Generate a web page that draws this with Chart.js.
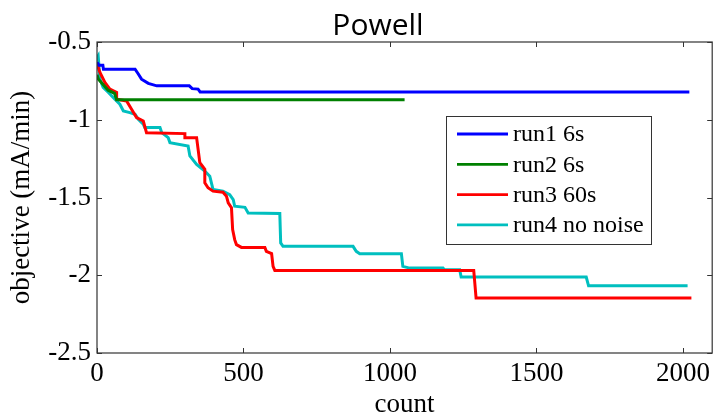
<!DOCTYPE html>
<html>
<head>
<meta charset="utf-8">
<title>Powell</title>
<script src="https://cdn.jsdelivr.net/npm/chart.js@4/dist/chart.umd.min.js"></script>
<style>
  html, body { margin: 0; padding: 0; background: #fff; }
  #chart { display: block; }
</style>
</head>
<body>
<canvas id="chart" width="715" height="418"></canvas>
<script>
// --- data ---
const seriesNames = ['run1 6s', 'run2 6s', 'run3 60s', 'run4 no noise'];
const seriesColors = ['#0000ff', '#008000', '#ff0000', '#00bfbf'];

const run1Counts = [0, 7, 20, 22, 130, 141, 152, 175, 204, 315, 325, 345, 352, 2022];
const run1Values = [-0.63, -0.65, -0.65, -0.675, -0.675, -0.706, -0.739, -0.766, -0.782, -0.782, -0.80, -0.803, -0.821, -0.821];

const run2Counts = [0, 5, 38, 60, 67, 1050];
const run2Values = [-0.71, -0.74, -0.81, -0.83, -0.872, -0.872];

const run3Counts = [0, 10, 27, 44, 67, 67, 101, 118, 135, 158, 169, 300, 300, 340, 351, 368, 368, 379, 396, 430, 442, 448, 459, 463, 470, 476, 493, 573, 578, 596, 601, 607, 1286, 1294, 2029];
const run3Values = [-0.64, -0.696, -0.76, -0.803, -0.825, -0.868, -0.879, -0.932, -0.986, -1.008, -1.083, -1.089, -1.115, -1.115, -1.276, -1.319, -1.405, -1.437, -1.459, -1.466, -1.492, -1.534, -1.566, -1.706, -1.771, -1.803, -1.821, -1.821, -1.846, -1.861, -1.943, -1.969, -1.969, -2.147, -2.147];

const run4Counts = [0, 4, 10, 21, 39, 61, 78, 90, 112, 130, 141, 158, 163, 215, 221, 243, 249, 311, 317, 340, 368, 385, 396, 430, 453, 465, 470, 505, 516, 624, 627, 635, 874, 885, 897, 1039, 1044, 1067, 1181, 1186, 1238, 1243, 1670, 1678, 2016];
const run4Values = [-0.60, -0.588, -0.739, -0.792, -0.825, -0.868, -0.90, -0.943, -0.954, -0.965, -0.997, -1.029, -1.05, -1.05, -1.083, -1.115, -1.147, -1.169, -1.233, -1.287, -1.33, -1.363, -1.448, -1.459, -1.481, -1.513, -1.556, -1.563, -1.599, -1.603, -1.792, -1.814, -1.814, -1.846, -1.861, -1.861, -1.943, -1.954, -1.954, -1.965, -1.965, -2.012, -2.012, -2.068, -2.068];

const xTickValues = [0, 500, 1000, 1500, 2000];
const yTickValues = [-2.5, -2, -1.5, -1, -0.5];
const yTickLabels = ['-2.5', '-2', '-1.5', '-1', '-0.5'];

const allCounts = [run1Counts, run2Counts, run3Counts, run4Counts];
const allValues = [run1Values, run2Values, run3Values, run4Values];

const serif = "'Liberation Serif', 'Times New Roman', serif";

// MATLAB style frame: box all round, ticks pointing inward
const framePlugin = {
    id: 'frame',
    afterDatasetsDraw(chart) {
        const { ctx, chartArea: a, scales } = chart;
        const len = 5;
        ctx.save();
        ctx.strokeStyle = '#333';
        ctx.lineWidth = 1.2;
        ctx.strokeRect(a.left, a.top, a.right - a.left, a.bottom - a.top);
        ctx.beginPath();
        xTickValues.forEach(v => {
            const x = Math.round(scales.x.getPixelForValue(v)) + 0.5;
            ctx.moveTo(x, a.bottom); ctx.lineTo(x, a.bottom - len);
            ctx.moveTo(x, a.top); ctx.lineTo(x, a.top + len);
        });
        yTickValues.forEach(v => {
            const y = Math.round(scales.y.getPixelForValue(v)) + 0.5;
            ctx.moveTo(a.left, y); ctx.lineTo(a.left + len, y);
            ctx.moveTo(a.right, y); ctx.lineTo(a.right - len, y);
        });
        ctx.lineWidth = 1;
        ctx.stroke();
        ctx.restore();
    }
};

// legend box inside the plot, top right
const boxLegendPlugin = {
    id: 'boxLegend',
    afterDraw(chart) {
        const { ctx } = chart;
        const left = 446.5, top = 116.5, w = 205, h = 128;
        ctx.save();
        ctx.fillStyle = '#fff';
        ctx.fillRect(left, top, w, h);
        ctx.strokeStyle = '#333';
        ctx.lineWidth = 1;
        ctx.strokeRect(left, top, w, h);
        ctx.font = '24px ' + serif;
        ctx.textBaseline = 'middle';
        ctx.textAlign = 'left';
        chart.data.datasets.forEach((ds, i) => {
            const y = 134 + i * 30.3;
            ctx.strokeStyle = ds.borderColor;
            ctx.lineWidth = 2.8;
            ctx.beginPath();
            ctx.moveTo(457, y);
            ctx.lineTo(508, y);
            ctx.stroke();
            ctx.fillStyle = '#000';
            ctx.fillText(ds.label, 513, y + 1);
        });
        ctx.restore();
    }
};

// title sits a bit left of the plot centre in the reference
const titlePlugin = {
    id: 'plotTitle',
    afterDraw(chart) {
        const { ctx } = chart;
        ctx.save();
        ctx.font = "30px 'Open Sans', 'Noto Sans', sans-serif";
        ctx.fillStyle = '#000';
        ctx.textAlign = 'center';
        ctx.textBaseline = 'alphabetic';
        ctx.fillText('Powell', 378, 35);
        ctx.restore();
    }
};

const datasets = seriesNames.map((name, i) => ({
    label: name,
    data: allCounts[i].map((c, j) => ({ x: c, y: allValues[i][j] })),
    borderColor: seriesColors[i],
    backgroundColor: seriesColors[i],
    borderWidth: 3,
    pointRadius: 0,
    tension: 0,
    fill: false
}));

new Chart(document.getElementById('chart'), {
    type: 'line',
    data: { datasets },
    options: {
        responsive: false,
        animation: false,
        layout: { padding: { top: 42, right: 2, left: 0, bottom: 0 } },
        plugins: {
            legend: { display: false },
            title: { display: false },
            tooltip: { enabled: false }
        },
        scales: {
            x: {
                type: 'linear',
                min: 0,
                max: 2100,
                afterFit: scale => { scale.height = 65; },
                afterBuildTicks: scale => { scale.ticks = xTickValues.map(v => ({ value: v })); },
                grid: { display: false, drawTicks: false },
                border: { display: false },
                ticks: {
                    padding: 5,
                    color: '#000',
                    font: { family: serif, size: 27 },
                    maxRotation: 0,
                    callback: v => String(v)
                },
                title: {
                    display: true,
                    text: 'count',
                    color: '#000',
                    font: { family: serif, size: 27, lineHeight: 1 },
                    padding: { top: 0, bottom: 0 }
                }
            },
            y: {
                type: 'linear',
                min: -2.5,
                max: -0.5,
                afterFit: scale => { scale.width = 97; },
                afterBuildTicks: scale => { scale.ticks = yTickValues.map(v => ({ value: v })); },
                grid: { display: false, drawTicks: false },
                border: { display: false },
                ticks: {
                    padding: 6,
                    color: '#000',
                    font: { family: serif, size: 27 },
                    callback: v => yTickLabels[yTickValues.indexOf(v)]
                },
                title: {
                    display: true,
                    text: 'objective (mA/min)',
                    color: '#000',
                    font: { family: serif, size: 27, lineHeight: 1 },
                    padding: { top: 8, bottom: 0 }
                }
            }
        }
    },
    plugins: [framePlugin, boxLegendPlugin, titlePlugin]
});
</script>
</body>
</html>
